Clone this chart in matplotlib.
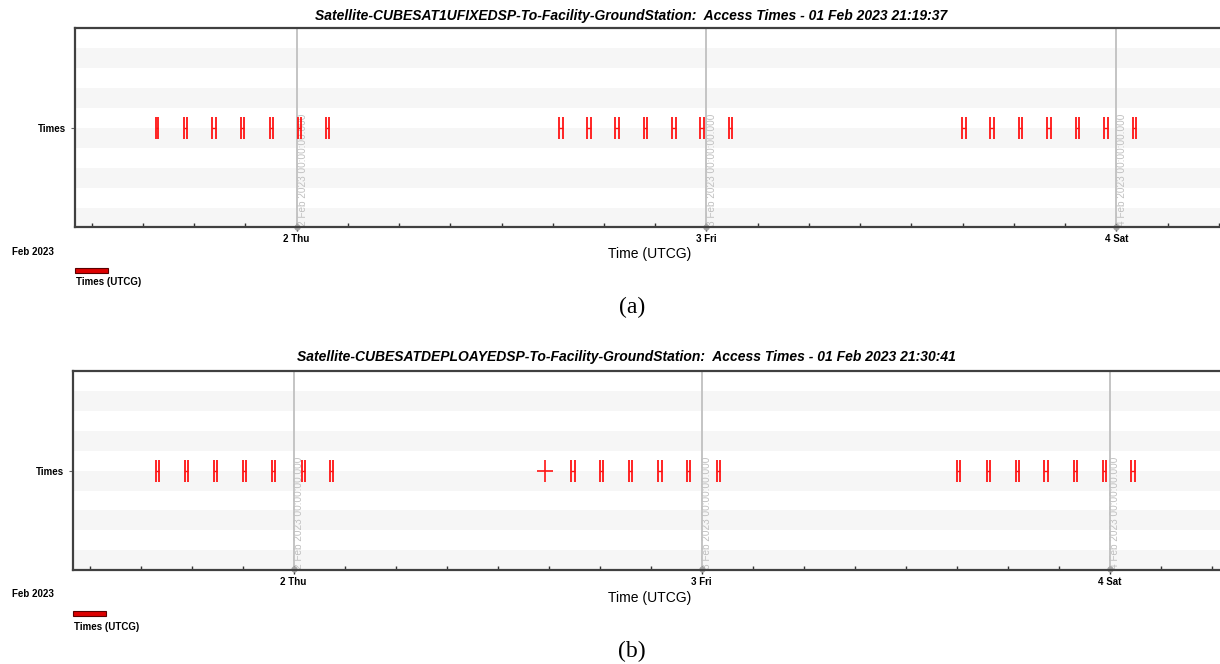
import matplotlib
matplotlib.use("Agg")
import matplotlib.pyplot as plt
import matplotlib.dates as mdates
from matplotlib.patches import Rectangle
from datetime import datetime

plt.rcParams['font.family'] = ['Liberation Sans', 'DejaVu Sans']

# ---------------- data ----------------
title_a = "Satellite-CUBESAT1UFIXEDSP-To-Facility-GroundStation:  Access Times - 01 Feb 2023 21:19:37"
title_b = "Satellite-CUBESATDEPLOAYEDSP-To-Facility-GroundStation:  Access Times - 01 Feb 2023 21:30:41"
row_label = "Times"
x_label = "Time (UTCG)"
month_label = "Feb 2023"
legend_label = "Times (UTCG)"
panel_labels = ["(a)", "(b)"]

x_start = "2023-02-01 11:00"
x_end = "2023-02-04 07:00"
day_ticks = ["2023-02-02 00:00", "2023-02-03 00:00", "2023-02-04 00:00"]
day_labels = ["2 Thu", "3 Fri", "4 Sat"]
day_marks = ["2 Feb 2023 00:00:00.000", "3 Feb 2023 00:00:00.000", "4 Feb 2023 00:00:00.000"]

# access intervals, panel (a): start time and duration (min)
access_a_start = [
    "2023-02-01 15:47", "2023-02-01 17:24", "2023-02-01 19:04", "2023-02-01 20:44",
    "2023-02-01 22:25", "2023-02-02 00:03", "2023-02-02 01:44",
    "2023-02-02 15:23", "2023-02-02 17:01", "2023-02-02 18:40", "2023-02-02 20:20",
    "2023-02-02 22:00", "2023-02-02 23:39", "2023-02-03 01:19",
    "2023-02-03 14:59", "2023-02-03 16:38", "2023-02-03 18:18", "2023-02-03 19:58",
    "2023-02-03 21:37", "2023-02-03 23:18", "2023-02-04 00:58",
]
access_a_dur = [6, 12, 12, 12, 12, 12, 11,
                12, 12, 12, 12, 12, 12, 12,
                12, 12, 12, 12, 12, 12, 12]

# access intervals, panel (b)
access_b_start = [
    "2023-02-01 15:54", "2023-02-01 17:37", "2023-02-01 19:19", "2023-02-01 21:02",
    "2023-02-01 22:44", "2023-02-02 00:29", "2023-02-02 02:08",
    "2023-02-02 16:21", "2023-02-02 18:02", "2023-02-02 19:44",
    "2023-02-02 21:27", "2023-02-02 23:08", "2023-02-03 00:53",
    "2023-02-03 15:02", "2023-02-03 16:46", "2023-02-03 18:29", "2023-02-03 20:10",
    "2023-02-03 21:53", "2023-02-03 23:37", "2023-02-04 01:17",
]
access_b_dur = [12, 12, 12, 12, 12, 12, 12,
                12, 12, 12, 12, 12, 12,
                12, 12, 12, 12, 12, 12, 12]
# single point event shown as a cross in panel (b)
point_b = ["2023-02-02 14:46"]

# ---------------- figure ----------------
W, H = 1220, 664
fig = plt.figure(figsize=(W / 100, H / 100), dpi=100)
fig.patch.set_facecolor('white')


def fx(px):
    return px / W


def fy(py):
    return 1 - py / H


def to_num(s):
    return mdates.date2num(datetime.strptime(s, "%Y-%m-%d %H:%M"))


RED = '#ff1414'


def draw_panel(left, top, bottom, day_px, title, title_cx, title_y, starts, durs, points,
               xlab_y, month_y, leg_y, leglab_y, plab, plab_y):
    x0, x1 = to_num(x_start), to_num(x_end)
    width_px = (x1 - x0) * day_px
    ax = fig.add_axes([fx(left), fy(bottom), fx(width_px), (bottom - top) / H])
    ax.set_xlim(x0, x1)
    ax.set_ylim(0, 10)
    # alternating bands
    for k in range(0, 10, 2):
        ax.axhspan(k, k + 1, color='#f6f6f6', zorder=0, lw=0)
    # day gridlines + rotated labels
    for d, m in zip(day_ticks, day_marks):
        xd = to_num(d)
        ax.axvline(xd, color='#c4c4c4', lw=1.4, zorder=1)
        ax.annotate(m, xy=(xd, 0), xycoords=('data', 'axes fraction'),
                    xytext=(4.2, 1), textcoords='offset points', rotation=90,
                    ha='center', va='bottom', fontsize=7.2, color='#c0c0c0', zorder=2)
        ax.plot([xd], [0.05], marker='o', ms=3.5, color='#a8a8a8', zorder=2, clip_on=False)
    # access intervals
    y = 5
    hh = 0.55
    for s, dmin in zip(starts, durs):
        a = to_num(s)
        b = a + dmin / 1440.0
        ax.vlines([a, b], y - hh, y + hh, color=RED, lw=1.3, zorder=3)
        ax.hlines(y, a, b, color=RED, lw=1.0, zorder=3)
    for p in points:
        xp = to_num(p)
        ax.plot([xp], [y], marker='|', ms=16, mew=1.2, color=RED, zorder=3)
        ax.plot([xp], [y], marker='_', ms=11.5, mew=1.2, color=RED, zorder=3)
    # axes styling
    for sp in ax.spines.values():
        sp.set_color('#404040')
        sp.set_linewidth(1.6)
    ax.set_yticks([y])
    ax.set_yticklabels([row_label], fontsize=7, fontweight='bold')
    ax.tick_params(axis='y', length=3, width=0.8, color='#666666', pad=3)
    ax.set_xticks([to_num(d) for d in day_ticks])
    ax.set_xticklabels(day_labels, fontsize=7, fontweight='bold')
    ax.xaxis.set_minor_locator(mdates.HourLocator(byhour=range(0, 24, 3)))
    ax.tick_params(axis='x', which='major', direction='inout', length=6, width=1.0,
                   color='#333333', pad=2)
    ax.tick_params(axis='x', which='minor', direction='in', length=3, width=1.0,
                   color='#333333')
    # texts
    fig.text(fx(title_cx), fy(title_y), title, ha='center', va='center',
             fontsize=10, fontweight='bold', fontstyle='italic')
    fig.text(fx(650), fy(xlab_y), x_label, ha='center', va='center', fontsize=10)
    fig.text(fx(12), fy(month_y), month_label, ha='left', va='center', fontsize=7,
             fontweight='bold')
    fig.patches.append(Rectangle((fx(left + 0.5), fy(leg_y + 2.5)), fx(33), 5 / H,
                                 transform=fig.transFigure, facecolor='#dd0000',
                                 edgecolor='#5a0000', lw=0.8))
    fig.text(fx(left + 1.5), fy(leglab_y), legend_label, ha='left', va='center',
             fontsize=7, fontweight='bold')
    fig.text(fx(632), fy(plab_y), plab, ha='center', va='center', fontsize=17,
             family=['Liberation Serif', 'DejaVu Serif'])
    return ax


draw_panel(74.7, 28, 227.5, 409.8, title_a, 631, 16, access_a_start, access_a_dur, [],
           254, 252, 270, 282, panel_labels[0], 307)
draw_panel(72.5, 371.3, 570, 408.0, title_b, 626, 357, access_b_start, access_b_dur, point_b,
           598, 594, 613.5, 626.5, panel_labels[1], 651)

fig.savefig("out.png", dpi=100)
